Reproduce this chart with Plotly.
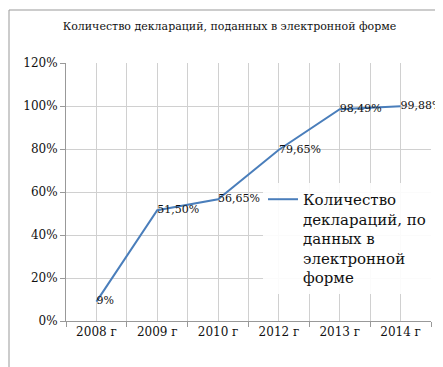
import plotly.graph_objects as go

categories = ["2008 г", "2009 г", "2010 г", "2012 г", "2013 г", "2014 г"]
values = [0.09, 0.515, 0.5665, 0.7965, 0.9849, 0.9988]
labels = ["9%", "51,50%", "56,65%", "79,65%", "98,49%", "99,88%"]
series_name = "Количество<br>деклараций, по<br>данных в<br>электронной<br>форме"
title = "Количество деклараций, поданных в электронной форме"
y_ticks = [0, 0.2, 0.4, 0.6, 0.8, 1.0, 1.2]
y_ticktext = ["0%", "20%", "40%", "60%", "80%", "100%", "120%"]

serif = "DejaVu Serif"
grid = "#d0d0d0"
W, H = 443, 367
L, R, T, B = 58, 20, 55, 54
pw, ph = W - L - R, H - T - B

fig = go.Figure()
fig.add_trace(go.Scatter(
    x=categories, y=values, mode="lines+text", name=series_name,
    text=labels, textposition="middle right",
    textfont=dict(family=serif, size=11, color="#111"),
    line=dict(color="#4a7ebb", width=2),
    cliponaxis=False,
))
# invisible trace for center gridlines
fig.add_trace(go.Scatter(x=categories, y=values, xaxis="x2", mode="lines",
                         line=dict(width=0), showlegend=False, hoverinfo="skip", opacity=0))

fig.update_layout(
    width=W, height=H,
    margin=dict(l=L, r=R, t=T, b=B),
    paper_bgcolor="white", plot_bgcolor="white",
    title=dict(text=title, x=0.5, xref="container", y=0.95, yanchor="middle",
               font=dict(family=serif, size=11, color="#111")),
    xaxis=dict(type="category", categoryarray=categories, range=[-0.5, 5.5],
               tickson="boundaries", ticks="outside", ticklen=5, tickcolor="#999",
               showgrid=True, gridcolor=grid, showline=True, linecolor="#999",
               tickfont=dict(family=serif, size=12, color="#111")),
    xaxis2=dict(type="category", categoryarray=categories, range=[-0.5, 5.5],
                overlaying="x", showgrid=True, gridcolor=grid, showticklabels=False,
                ticks="", showline=False),
    yaxis=dict(range=[0, 1.2], tickvals=y_ticks, ticktext=y_ticktext,
               ticks="outside", ticklen=5, tickcolor="#999",
               showgrid=True, gridcolor=grid, showline=True, linecolor="#999",
               zeroline=False,
               tickfont=dict(family=serif, size=12, color="#111")),
    legend=dict(x=1.0, y=0.535, xanchor="right", yanchor="top", valign="top",
                bgcolor="rgba(255,255,255,0.9)",
                font=dict(family=serif, size=15, color="#111"),
                itemwidth=30),
    shapes=[dict(type="rect", xref="paper", yref="paper",
                 x0=(1 - L) / pw, x1=(441 - L) / pw,
                 y0=-(B - 2) / ph, y1=(ph + T - 2) / ph,
                 line=dict(color="#999", width=1), fillcolor="rgba(0,0,0,0)")],
)

fig.write_html("out.html")
